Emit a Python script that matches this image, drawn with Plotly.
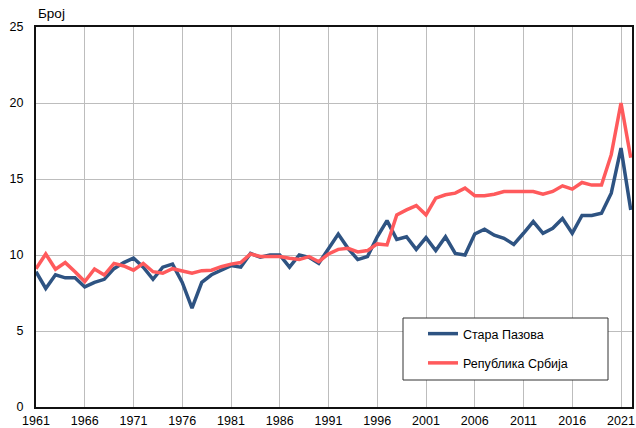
import plotly.graph_objects as go

years = list(range(1961, 2023))

stara_pazova = [8.9, 7.8, 8.7, 8.5, 8.5, 7.9, 8.2, 8.4, 9.1, 9.5,
                9.8, 9.2, 8.4, 9.2, 9.4, 8.2, 6.5, 8.2, 8.7, 9.0,
                9.3, 9.2, 10.1, 9.85, 10.0, 10.0, 9.2, 10.0, 9.85, 9.45,
                10.4, 11.38, 10.44, 9.7, 9.9, 11.2, 12.26, 11.03, 11.2, 10.37,
                11.14, 10.29, 11.2, 10.1, 10.0, 11.38, 11.7, 11.3, 11.1, 10.7,
                11.43, 12.2, 11.43, 11.76, 12.4, 11.43, 12.6, 12.6, 12.75, 14.07,
                17.03, 12.97]

srbija = [9.1, 10.07, 9.06, 9.5, 8.9, 8.25, 9.08, 8.68, 9.45, 9.28,
          9.0, 9.45, 8.9, 8.8, 9.1, 8.97, 8.8, 8.97, 9.0, 9.23,
          9.4, 9.5, 10.07, 9.9, 9.9, 9.9, 9.78, 9.7, 9.9, 9.56,
          10.07, 10.37, 10.44, 10.2, 10.29, 10.73, 10.66, 12.64, 12.97, 13.25,
          12.64, 13.74, 13.96, 14.07, 14.4, 13.9, 13.9, 14.0, 14.18, 14.18,
          14.18, 14.18, 14.0, 14.18, 14.55, 14.33, 14.77, 14.6, 14.6, 16.6,
          20.0, 16.4]

x_ticks = list(range(1961, 2022, 5))
y_ticks = [0, 5, 10, 15, 20, 25]

W, H = 636, 428
L, R, T, B = 36, 4, 27, 21
pw, ph = W - L - R, H - T - B

def px(x):
    return (x - L) / pw

def py(y):
    return 1 - (y - T) / ph

fig = go.Figure()
fig.add_trace(go.Scatter(x=years, y=stara_pazova, mode="lines", name="Стара Пазова",
                         legendgroup="a",
                         line=dict(color="#2e5382", width=3.5)))
fig.add_trace(go.Scatter(x=years, y=srbija, mode="lines", name="Република Србија",
                         legendgroup="b",
                         line=dict(color="#ff5a5c", width=3.5)))

font = "Liberation Sans, Arial, sans-serif"
fig.update_layout(
    width=W, height=H,
    margin=dict(l=L, r=R, t=T, b=B, autoexpand=False),
    paper_bgcolor="white", plot_bgcolor="white",
    font=dict(family=font, size=12.5, color="#000000"),
    showlegend=True,
    legend=dict(x=px(423), y=py(319), xanchor="left", yanchor="top",
                bgcolor="rgba(0,0,0,0)", borderwidth=0,
                font=dict(size=12.5), itemwidth=30, tracegroupgap=10,
                traceorder="grouped"),
    xaxis=dict(range=[1961, 1961 + pw / 9.75], tickvals=x_ticks,
               ticktext=[str(t) for t in x_ticks], automargin=False,
               showgrid=True, gridcolor="#bdbdbd", gridwidth=1,
               showline=True, linecolor="#111111", linewidth=1.5, mirror=True,
               ticks="", ticklabelstandoff=1, zeroline=False),
    yaxis=dict(range=[0, 25], tickvals=y_ticks, ticktext=[str(t) for t in y_ticks],
               automargin=False,
               showgrid=True, gridcolor="#bdbdbd", gridwidth=1,
               showline=True, linecolor="#111111", linewidth=2, mirror=True,
               ticks="", ticklabelstandoff=8, zeroline=False),
    shapes=[dict(type="rect", xref="paper", yref="paper",
                 x0=px(403), x1=px(608), y0=py(380), y1=py(318),
                 line=dict(color="#333333", width=1), fillcolor="white", layer="above")],
    annotations=[dict(text="Број", xref="paper", yref="paper", x=0, y=1,
                      xanchor="left", yanchor="bottom", yshift=4, showarrow=False,
                      font=dict(size=13.5, family=font))],
)

fig.write_html("out.html", config={"displayModeBar": False},
               post_script="document.body.style.margin='0';document.body.style.overflow='hidden';")
